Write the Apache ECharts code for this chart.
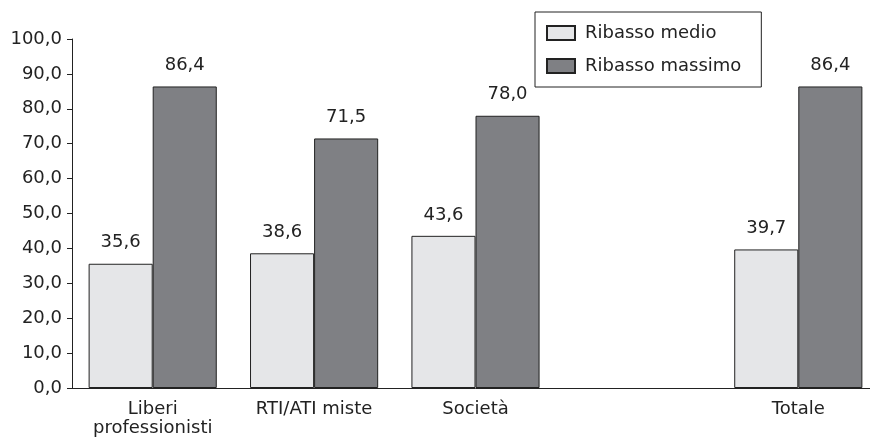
<!DOCTYPE html>
<html>
<head>
<meta charset="utf-8">
<script src="https://cdn.jsdelivr.net/npm/echarts@6/dist/echarts.min.js"></script>
<style>html,body{margin:0;padding:0;background:#fff;overflow:hidden}#c{width:900px;height:439px}</style>
</head>
<body>
<div id="c"></div>
<script>
var categories = ['Liberi\nprofessionisti', 'RTI/ATI miste', 'Società', '', 'Totale'];
var ribassoMedio = [35.6, 38.6, 43.6, '-', 39.7];
var ribassoMassimo = [86.4, 71.5, 78.0, '-', 86.4];
var seriesNames = ['Ribasso medio', 'Ribasso massimo'];
var yTicks = {min: 0, max: 100, interval: 10};

function fmt(v) { return Number(v).toFixed(1).replace('.', ','); }

var chart = echarts.init(document.getElementById('c'));
var font = 'DejaVu Sans, sans-serif';
var fs = 18;
chart.setOption({
  animation: false,
  textStyle: {fontFamily: font},
  grid: {left: 72, top: 39, width: 807, height: 349, containLabel: false},
  legend: {
    orient: 'vertical', left: 535, top: 12,
    padding: [12, 20, 12, 11], itemGap: 15,
    itemWidth: 28, itemHeight: 14, icon: 'rect',
    borderColor: '#222', borderWidth: 1,
    textStyle: {fontSize: fs, color: '#222', fontFamily: font, padding: [0, 0, 0, 5]},
    data: seriesNames
  },
  xAxis: {
    type: 'category', data: categories,
    axisLine: {lineStyle: {color: '#222'}},
    axisTick: {show: false},
    axisLabel: {fontSize: fs, color: '#222', margin: 12, lineHeight: 19, interval: 0, fontFamily: font}
  },
  yAxis: {
    type: 'value', min: yTicks.min, max: yTicks.max, interval: yTicks.interval,
    axisLine: {show: true, lineStyle: {color: '#222'}},
    axisTick: {show: true, length: 5, lineStyle: {color: '#222'}},
    splitLine: {show: false},
    axisLabel: {fontSize: fs, color: '#222', margin: 10, formatter: fmt, fontFamily: font}
  },
  series: [
    {
      name: seriesNames[0], type: 'bar', data: ribassoMedio,
      barGap: '0%', barCategoryGap: '20.6%',
      itemStyle: {color: '#e5e6e8', borderColor: '#222', borderWidth: 1},
      label: {show: true, position: 'top', distance: 12, fontSize: fs, color: '#222', fontFamily: font, formatter: function(p){return fmt(p.value);}}
    },
    {
      name: seriesNames[1], type: 'bar', data: ribassoMassimo,
      barGap: '0%', barCategoryGap: '20.6%',
      itemStyle: {color: '#7f8084', borderColor: '#222', borderWidth: 1},
      label: {show: true, position: 'top', distance: 12, fontSize: fs, color: '#222', fontFamily: font, formatter: function(p){return fmt(p.value);}}
    }
  ]
});
</script>
</body>
</html>
